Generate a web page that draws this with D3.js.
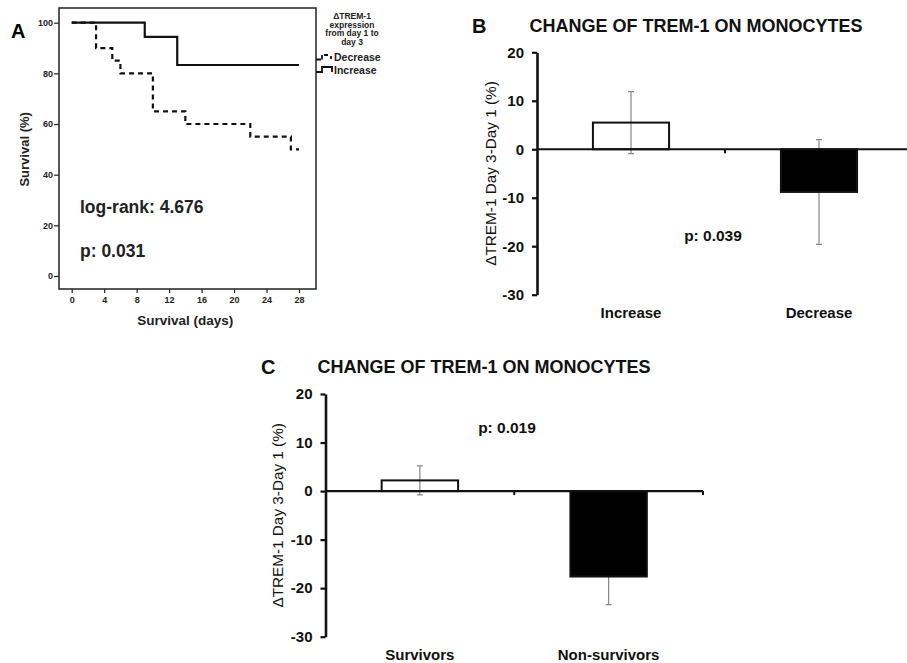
<!DOCTYPE html>
<html>
<head>
<meta charset="utf-8">
<script src="https://cdn.jsdelivr.net/npm/d3@7"></script>
<style>
  body { margin: 0; background: #fff; }
  svg { font-family: "Liberation Sans", Arial, sans-serif; }
</style>
</head>
<body>
<div class="viewer"></div>
<script>
// panel A - Kaplan-Meier survival by change of TREM-1
var incDays = [0, 9, 13, 28];
var incSurv = [100, 94.4, 83.3, 83.3];
var decDays = [0, 3, 5, 6, 10, 14, 22, 27, 28];
var decSurv = [100, 90, 85, 80, 65, 60, 55, 50, 50];
var kmDayTicks = [0, 4, 8, 12, 16, 20, 24, 28];
var kmSurvTicks = [0, 20, 40, 60, 80, 100];
var legendTitle = ['\u0394TREM-1', 'expression', 'from day 1 to', 'day 3'];

// panel B - change by expression group
var groupsB = ['Increase', 'Decrease'];
var meanB = [5.5, -8.8];
var errB = [6.4, 10.8];

// panel C - change by outcome
var groupsC = ['Survivors', 'Non-survivors'];
var meanC = [2.2, -17.6];
var errC = [3.0, 5.8];

var barTicks = [-30, -20, -10, 0, 10, 20];
var panelTitle = 'CHANGE OF TREM-1 ON MONOCYTES';
var yTitle = '\u0394TREM-1 Day 3-Day 1 (%)';

var svg = d3.select('.viewer').append('svg')
  .attr('width', 907)
  .attr('height', 663);

// ---------- panel A ----------
var box = {l: 59, r: 316, t: 8, b: 289};
var xA = d3.scaleLinear().domain([0, 28]).range([71.7, 299]);
var yA = d3.scaleLinear().domain([0, 100]).range([276, 22.7]);

var gA = svg.append('g');

gA.append('rect')
  .attr('x', box.l).attr('y', box.t)
  .attr('width', box.r - box.l).attr('height', box.b - box.t)
  .attr('fill', 'none').attr('stroke', '#222').attr('stroke-width', 1.5);

var axA_y = gA.append('g')
  .attr('transform', 'translate(' + box.l + ',0)')
  .call(d3.axisLeft(yA).tickValues(kmSurvTicks).tickSize(5).tickSizeOuter(0).tickPadding(1));
var axA_x = gA.append('g')
  .attr('transform', 'translate(0,' + box.b + ')')
  .call(d3.axisBottom(xA).tickValues(kmDayTicks).tickSize(4).tickSizeOuter(0).tickPadding(4));
[axA_y, axA_x].forEach(function (ax) {
  ax.select('.domain').remove();
  ax.selectAll('line').attr('stroke', '#222').attr('stroke-width', 1.2);
  ax.selectAll('text').attr('font-size', 9).attr('font-weight', 'bold').attr('fill', '#222');
});

var km = d3.line()
  .x(function (d) { return xA(d[0]); })
  .y(function (d) { return yA(d[1]); })
  .curve(d3.curveStepAfter);

gA.append('path')
  .datum(d3.zip(incDays, incSurv))
  .attr('d', km)
  .attr('fill', 'none').attr('stroke', '#111').attr('stroke-width', 2.2);

gA.append('path')
  .datum(d3.zip(decDays, decSurv))
  .attr('d', km)
  .attr('fill', 'none').attr('stroke', '#111').attr('stroke-width', 2.2)
  .attr('stroke-dasharray', '5,4');

gA.append('text').text('A')
  .attr('x', 11).attr('y', 38)
  .attr('font-size', 20).attr('font-weight', 'bold');

gA.append('text').text('Survival (%)')
  .attr('transform', 'translate(29,' + yA(50) + ') rotate(-90)')
  .attr('text-anchor', 'middle')
  .attr('font-size', 13).attr('font-weight', 'bold').attr('fill', '#222');

gA.append('text').text('Survival (days)')
  .attr('x', xA(14)).attr('y', 325)
  .attr('text-anchor', 'middle')
  .attr('font-size', 13.5).attr('font-weight', 'bold').attr('fill', '#222');

gA.append('text').text('log-rank: 4.676')
  .attr('x', 80).attr('y', 213)
  .attr('font-size', 17.5).attr('font-weight', 'bold').attr('fill', '#222');
gA.append('text').text('p: 0.031')
  .attr('x', 80).attr('y', 257)
  .attr('font-size', 17.5).attr('font-weight', 'bold').attr('fill', '#222');

// legend
legendTitle.forEach(function (t, i) {
  gA.append('text').text(t)
    .attr('x', 352).attr('y', 19 + i * 8.5)
    .attr('text-anchor', 'middle')
    .attr('font-size', 8.5).attr('font-weight', 'bold').attr('fill', '#222');
});
gA.append('path')
  .attr('d', 'M316,59.5 H321 M322,59.5 V55 M324,55 H328 M331,56 V59')
  .attr('fill', 'none').attr('stroke', '#111').attr('stroke-width', 1.8);
gA.append('path')
  .attr('d', 'M316,72 H322 V67 H332 V72')
  .attr('fill', 'none').attr('stroke', '#111').attr('stroke-width', 1.8);
gA.append('text').text('Decrease')
  .attr('x', 334).attr('y', 61)
  .attr('font-size', 10.5).attr('font-weight', 'bold').attr('fill', '#222');
gA.append('text').text('Increase')
  .attr('x', 334).attr('y', 74)
  .attr('font-size', 10.5).attr('font-weight', 'bold').attr('fill', '#222');

// ---------- bar panels ----------
function barPanel(cfg) {
  var g = svg.append('g');
  var y = d3.scaleLinear().domain([-30, 20]).range([cfg.y0, cfg.y1]);
  var x = d3.scalePoint().domain(cfg.cats).range([cfg.x0, cfg.x1]).padding(0.5);
  var step = x.step();
  var bw = step * 0.405;

  // letter + title
  g.append('text').text(cfg.letter)
    .attr('x', cfg.letterX).attr('y', cfg.titleY + 0.5)
    .attr('font-size', 20).attr('font-weight', 'bold').attr('fill', '#111');
  g.append('text').text(panelTitle)
    .attr('x', cfg.titleX).attr('y', cfg.titleY)
    .attr('text-anchor', 'middle')
    .attr('font-size', 18).attr('font-weight', 'bold').attr('fill', '#111');

  // y axis
  var ay = g.append('g')
    .attr('transform', 'translate(' + cfg.x0 + ',0)')
    .call(d3.axisLeft(y).tickValues(barTicks).tickFormat(String)
      .tickSize(5).tickSizeOuter(0).tickPadding(8));
  ay.select('.domain').attr('stroke', '#111').attr('stroke-width', 2.6);
  ay.selectAll('line').attr('stroke', '#111').attr('stroke-width', 2.2);
  ay.selectAll('text').attr('font-size', 15).attr('font-weight', 'bold').attr('fill', '#111');

  g.append('text').text(yTitle)
    .attr('transform', 'translate(' + cfg.yTitleX + ',' + y(-5) + ') rotate(-90)')
    .attr('text-anchor', 'middle').attr('dy', '0.35em')
    .attr('font-size', 15.3).attr('fill', '#111');

  // error bars (drawn first: the black bars hide their inner half)
  cfg.cats.forEach(function (c, i) {
    var cx = x(c), hi = y(cfg.mean[i] + cfg.err[i]), lo = y(cfg.mean[i] - cfg.err[i]);
    g.append('path')
      .attr('d', 'M' + cx + ',' + hi + 'V' + lo +
        'M' + (cx - 3) + ',' + hi + 'H' + (cx + 3) +
        'M' + (cx - 3) + ',' + lo + 'H' + (cx + 3))
      .attr('fill', 'none').attr('stroke', '#888').attr('stroke-width', 1.2);
  });

  // bars
  cfg.cats.forEach(function (c, i) {
    var v = cfg.mean[i];
    g.append('rect')
      .attr('x', x(c) - bw / 2)
      .attr('y', y(Math.max(0, v)))
      .attr('width', bw)
      .attr('height', Math.abs(y(v) - y(0)))
      .attr('fill', v >= 0 ? 'none' : '#000')
      .attr('stroke', '#111').attr('stroke-width', 2);
  });

  // zero line with category ticks
  var bounds = cfg.cats.map(function (c) { return x(c) + step / 2; });
  g.append('line')
    .attr('x1', cfg.x0).attr('x2', cfg.x1)
    .attr('y1', y(0)).attr('y2', y(0))
    .attr('stroke', '#111').attr('stroke-width', 2.2);
  g.selectAll('.ctick').data(bounds).enter().append('line')
    .attr('x1', function (d) { return d; }).attr('x2', function (d) { return d; })
    .attr('y1', y(0)).attr('y2', y(0) + 4)
    .attr('stroke', '#111').attr('stroke-width', 2);

  // category labels
  cfg.cats.forEach(function (c) {
    g.append('text').text(c)
      .attr('x', x(c)).attr('y', cfg.catY)
      .attr('text-anchor', 'middle')
      .attr('font-size', 15).attr('font-weight', 'bold').attr('fill', '#111');
  });

  g.append('text').text(cfg.p)
    .attr('x', cfg.pX).attr('y', y(cfg.pV))
    .attr('text-anchor', 'middle')
    .attr('font-size', 15.5).attr('font-weight', 'bold').attr('fill', '#111');
}

barPanel({
  letter: 'B', letterX: 472, titleX: 696, titleY: 32,
  cats: groupsB, mean: meanB, err: errB,
  x0: 537, x1: 913, y0: 294.7, y1: 52.3,
  yTitleX: 491, catY: 318,
  p: 'p: 0.039', pX: 713, pV: -19
});

barPanel({
  letter: 'C', letterX: 261, titleX: 484, titleY: 373,
  cats: groupsC, mean: meanC, err: errC,
  x0: 325.5, x1: 703, y0: 636.7, y1: 394,
  yTitleX: 278, catY: 660,
  p: 'p: 0.019', pX: 507, pV: 12
});
</script>
</body>
</html>
